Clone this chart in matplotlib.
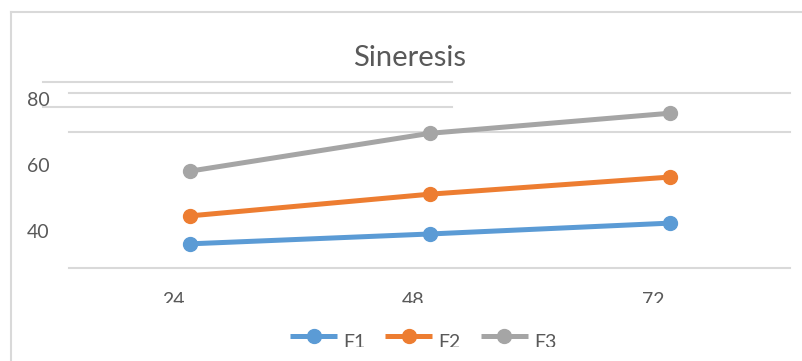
import matplotlib.pyplot as plt
import matplotlib.transforms as mtransforms
from matplotlib.lines import Line2D

# data
hours = ['24', '48', '72']
f1 = [36.4, 39.4, 42.7]
f2 = [44.9, 51.5, 56.7]
f3 = [58.5, 70.0, 76.1]
series = ['F1', 'F2', 'F3']
colors = ['#5B9BD5', '#ED7D31', '#A5A5A5']
ytick_vals = [80, 60, 40]
grid_long = [82.2, 70.4, 29.1]
grid_short = [85.6, 77.9]

W, H = 802, 361
txt = '#595959'
plt.rcParams['font.family'] = ['Lato', 'DejaVu Sans']

fig = plt.figure(figsize=(W / 100, H / 100), dpi=100)
ax = fig.add_axes([70 / W, (H - 268) / H, 720 / W, 186 / H])
ax.set_xlim(-0.5, 2.5)
ax.set_ylim(29.06, 85.59)
ax.axis('off')

# gridlines (partly shifted, as in the source image)
for g in grid_long:
    ax.axhline(g, xmin=-0.0014, xmax=1.0, color='#D9D9D9', lw=1.5, clip_on=False, zorder=1)
for g in grid_short:
    ax.axhline(g, xmin=-0.0375, xmax=0.5306, color='#D9D9D9', lw=1.5, clip_on=False, zorder=1)

x = range(len(hours))
handles = []
for name, vals, c in zip(series, [f1, f2, f3], colors):
    h, = ax.plot(x, vals, color=c, lw=3.6, marker='o', ms=10, label=name, zorder=3,
                 clip_on=False, solid_capstyle='butt')
    handles.append(h)

# y labels
ytrans = mtransforms.blended_transform_factory(fig.transFigure, ax.transData)
for v in ytick_vals:
    fig.text(38.5 / W, v, str(v), transform=ytrans, ha='center', va='center',
             fontsize=14, color=txt)

# x labels, cut off at the bottom like the original
clip_x = mtransforms.Bbox.from_extents(0, H - 303, W, H)
xtrans = mtransforms.blended_transform_factory(ax.transData, fig.transFigure)
xtrans = mtransforms.offset_copy(xtrans, fig=fig, x=-17, y=0, units='dots')
for i, lab in enumerate(hours):
    t = ax.text(i, (H - 306) / H, lab, transform=xtrans, ha='center', va='baseline',
                fontsize=14, color=txt, clip_on=True)
    t.set_clip_box(clip_x)

fig.text(410 / W, (H - 66) / H, 'Sineresis', ha='center', va='baseline',
         fontsize=21, color=txt)

leg = ax.legend(handles=handles, loc='center left', ncol=3, frameon=False,
                bbox_to_anchor=(290 / W, (H - 337) / H), bbox_transform=fig.transFigure,
                borderpad=0, borderaxespad=0, handlelength=2.42, handletextpad=0.31,
                columnspacing=1.03, fontsize=14, labelcolor=txt)
clip_leg = mtransforms.Bbox.from_extents(0, H - 347, W, H)
for t in leg.get_texts():
    t.set_transform(t.get_transform() + mtransforms.Affine2D().translate(0, -5))
    t.set_clip_on(True)
    t.set_clip_box(clip_leg)

# outer chart border (only top and left edges are visible)
fig.add_artist(Line2D([11 / W, 11 / W], [0, (H - 12) / H], color='#D9D9D9', lw=1.5,
                      transform=fig.transFigure))
fig.add_artist(Line2D([11 / W, 1], [(H - 12) / H, (H - 12) / H], color='#D9D9D9', lw=1.5,
                      transform=fig.transFigure))

fig.savefig('out.png', dpi=100)
